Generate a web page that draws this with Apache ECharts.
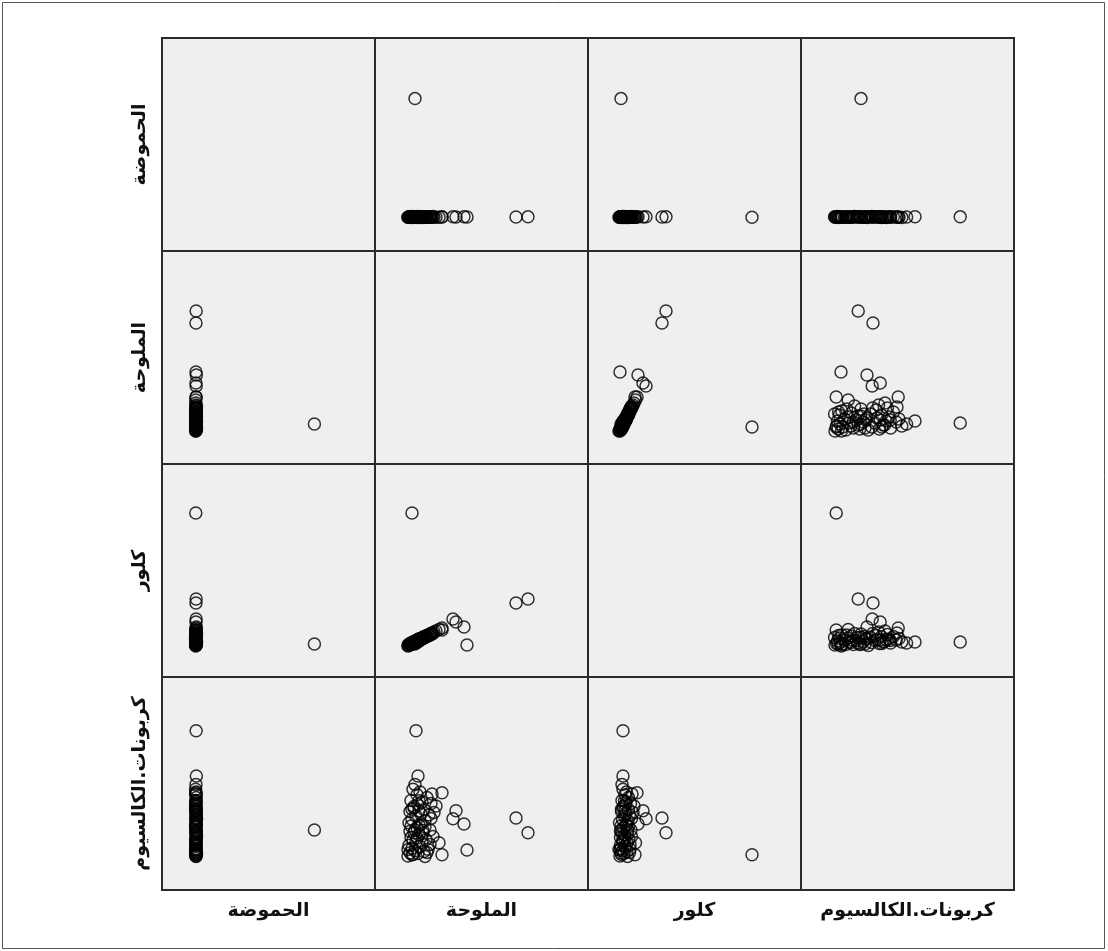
<!DOCTYPE html>
<html>
<head>
<meta charset="utf-8">
<script src="https://cdn.jsdelivr.net/npm/echarts@6/dist/echarts.min.js"></script>
<style>
  html, body { margin: 0; padding: 0; background: #fff; }
  #chart { width: 1108px; height: 951px; }
</style>
</head>
<body>
<div id="chart"></div>
<script>
// Scatter plot matrix
var varNames = ['الحموضة', 'الملوحة', 'كلور', 'كربونات.الكالسيوم'];

// one entry per sample, same order in every array
var ph = [
  7.4, 7.6, 7.5, 7.3, 7.7, 7.5, 7.4, 7.6, 7.8, 7.5,
  7.3, 7.6, 7.5, 7.4, 7.7, 7.5, 7.6, 7.4, 7.5, 7.8,
  7.3, 7.5, 7.6, 7.4, 7.5, 7.7, 7.5, 7.6, 7.4, 7.5,
  7.3, 7.6, 7.5, 7.7, 7.4, 7.5, 7.6, 7.5, 7.4, 7.8,
  7.5, 7.6, 7.3, 7.5, 7.4, 7.7, 7.5, 7.6, 7.4, 7.5,
  7.6, 7.5, 7.4, 7.5, 7.7, 7.6, 7.5, 7.4, 7.6, 7.5,
  7.5, 7.4,
  72.0, 7.6, 7.5, 7.4, 7.6, 7.5, 7.7, 7.5, 7.6
];
var salinity = [
  0.3, 0.4, 0.4, 0.5, 0.5, 0.6, 0.6, 0.7, 0.7, 0.8,
  0.8, 0.9, 0.9, 1.0, 1.3, 1.1, 1.1, 1.2, 1.2, 1.3,
  1.3, 1.4, 1.4, 1.5, 1.5, 1.6, 1.7, 1.7, 1.8, 1.9,
  1.9, 2.0, 2.1, 2.2, 2.3, 2.4, 2.5, 2.6, 2.7, 2.8,
  2.9, 2.2, 1.6, 2.5, 3.1, 1.8, 3.7, 3.7, 3.4, 2.6,
  1.2, 0.9, 2.0, 1.0, 0.5, 0.7, 1.4, 0.3, 2.0, 1.4,
  0.6, 0.8,
  1.0, 12.3, 11.1, 0.7, 1.1, 6.2, 5.9, 5.1, 4.8
];
var chloride = [
  0.4, 0.5, 0.3, 0.6, 0.7, 0.5, 0.8, 0.6, 0.9, 0.7,
  1.0, 0.8, 1.1, 0.9, 1.0, 1.0, 1.3, 1.1, 1.4, 1.2,
  1.5, 1.3, 1.6, 1.4, 1.7, 1.5, 1.8, 1.6, 1.9, 1.8,
  2.1, 2.0, 2.2, 2.1, 2.4, 2.3, 2.6, 2.5, 2.8, 2.7,
  3.0, 2.3, 1.7, 2.4, 3.2, 1.9, 3.8, 3.4, 3.5, 2.7,
  1.3, 1.0, 2.1, 0.8, 0.5, 0.7, 1.4, 0.2, 1.9, 1.3,
  0.6, 0.9,
  0.6, 9.6, 8.8, 26.8, 1.0, 0.4, 4.0, 5.0, 5.6
];
var caco3 = [
  1.5, 4.2, 9.8, 2.3, 12.6, 6.1, 15.4, 3.4, 10.7, 1.9,
  18.2, 7.3, 13.9, 2.8, 21.5, 5.0, 11.5, 8.6, 16.8, 2.1,
  14.3, 6.8, 9.2, 3.9, 17.5, 12.0, 4.7, 15.0, 7.9, 2.6,
  13.1, 10.3, 5.6, 16.1, 3.2, 11.8, 8.0, 14.6, 17.0, 6.4,
  12.4, 2.4, 9.5, 4.4, 14.0, 7.2, 17.3, 1.8, 4.8, 10.9,
  6.0, 13.5, 8.8, 19.4, 7.7, 13.2, 12.8, 3.1, 1.4, 15.3,
  9.0, 5.5,
  8.0, 7.3, 11.0, 1.8, 32.8, 3.0, 9.5, 12.8, 10.8
];

// scale range of each variable inside its cell
var axisMin = [-11, -3, -6, -7];
var axisMax = [105, 18.3, 36.6, 46.25];

var columns = [ph, salinity, chloride, caco3];
var CELL = 213, LEFT = 162, TOP = 38;

var nameStyle = {
  fontFamily: 'DejaVu Sans',
  fontSize: 19,
  fontWeight: 'bold',
  color: '#111'
};

var grids = [], xAxes = [], yAxes = [], series = [];

for (var i = 0; i < 4; i++) {
  for (var j = 0; j < 4; j++) {
    var k = grids.length;
    grids.push({
      left: LEFT + j * CELL,
      top: TOP + i * CELL,
      width: CELL,
      height: CELL,
      show: true,
      backgroundColor: '#efefef',
      borderColor: '#2a2a2a',
      borderWidth: 2
    });
    xAxes.push({
      gridIndex: k,
      type: 'value',
      min: axisMin[j],
      max: axisMax[j],
      name: i === 3 ? varNames[j] : '',
      nameLocation: 'middle',
      nameGap: 12,
      nameTextStyle: nameStyle,
      axisLine: { show: false },
      axisTick: { show: false },
      axisLabel: { show: false },
      splitLine: { show: false }
    });
    yAxes.push({
      gridIndex: k,
      type: 'value',
      min: axisMin[i],
      max: axisMax[i],
      name: j === 0 ? varNames[i] : '',
      nameLocation: 'middle',
      nameGap: 12,
      nameTextStyle: nameStyle,
      axisLine: { show: false },
      axisTick: { show: false },
      axisLabel: { show: false },
      splitLine: { show: false }
    });
    if (i !== j) {
      var xs = columns[j], ys = columns[i];
      series.push({
        type: 'scatter',
        xAxisIndex: k,
        yAxisIndex: k,
        silent: true,
        symbol: 'circle',
        symbolSize: 12,
        itemStyle: {
          color: 'rgba(0,0,0,0)',
          borderColor: '#000',
          borderWidth: 1.5
        },
        data: xs.map(function (v, n) { return [v, ys[n]]; })
      });
    }
  }
}

var chart = echarts.init(document.getElementById('chart'), null, { renderer: 'canvas' });
chart.setOption({
  animation: false,
  backgroundColor: '#fff',
  grid: grids,
  xAxis: xAxes,
  yAxis: yAxes,
  series: series,
  graphic: [{
    type: 'rect',
    silent: true,
    shape: { x: 2.5, y: 2.5, width: 1102, height: 946 },
    style: { fill: 'none', stroke: '#555', lineWidth: 1 }
  }]
});
</script>
</body>
</html>
